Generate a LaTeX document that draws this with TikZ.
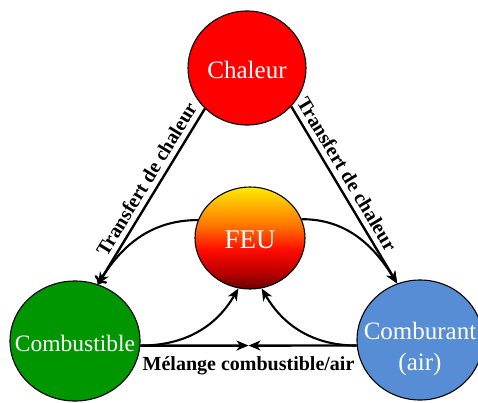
\documentclass[tikz,border=0pt]{standalone}
\usepackage{fontspec}
\setmainfont{Liberation Serif}
\usetikzlibrary{shapes.geometric, arrows.meta, calc}
\definecolor{chalred}{RGB}{255,0,0}
\definecolor{combgreen}{RGB}{0,150,0}
\definecolor{airblue}{RGB}{86,141,212}
\definecolor{feuA}{RGB}{105,0,0}
\definecolor{feuB}{RGB}{185,0,0}
\definecolor{feuC}{RGB}{255,10,0}
\definecolor{feuD}{RGB}{255,115,0}
\definecolor{feuE}{RGB}{255,235,0}
\pgfdeclareverticalshading{feushade}{100bp}{color(0bp)=(feuA); color(25bp)=(feuA); color(33bp)=(feuB); color(44bp)=(feuC); color(56bp)=(feuD); color(75bp)=(feuE); color(100bp)=(feuE)}
\begin{document}
\begin{tikzpicture}[x=1pt, y=1pt,
  blob/.style={ellipse, draw=black, line width=1.1pt, inner sep=0pt},
  intext/.style={text=white, align=center, inner sep=0pt},
  arr/.style={-{Stealth[length=12pt, width=10pt, inset=3.5pt]}, line width=2.4pt, black},
  carr/.style={-{Stealth[length=12pt, width=10pt, inset=3.5pt]}, line width=2.1pt, black},
  lbl/.style={font=\bfseries\fontsize{20}{23}\selectfont, inner sep=2pt, text=black}
]
\useasboundingbox (0,0) rectangle (478,402);

\node[blob, fill=chalred, minimum width=118pt, minimum height=114pt,
  label={[intext, font=\fontsize{25}{30}\selectfont, yshift=-2pt]center:Chaleur}] (chaleur) at (247,334) {};
\node[blob, shading=feushade, minimum width=110pt, minimum height=102pt,
  label={[intext, font=\fontsize{27}{32}\selectfont, yshift=-2pt]center:FEU}] (feu) at (250,164) {};
\node[blob, fill=combgreen, minimum width=130pt, minimum height=120pt,
  label={[intext, font=\fontsize{23.5}{28}\selectfont, yshift=-2pt]center:Combustible}] (combustible) at (75,61) {};
\node[blob, fill=airblue, minimum width=126pt, minimum height=120pt,
  label={[intext, font=\fontsize{25}{31}\selectfont, yshift=-9pt]center:Comburant\\(air)}] (comburant) at (420,62) {};

\coordinate (mid) at ($(combustible.-4)!0.5!(comburant.185)$);

% heat transfer
\draw[arr, <-] (combustible.68) -- node[lbl, sloped, above=3pt, pos=0.56] (tl) {Transfert de chaleur} (chaleur.224);
\draw[arr] (chaleur.319) -- node[lbl, sloped, above=3pt, pos=0.42] (tr) {Transfert de chaleur} (comburant.112);

% fire to sides
\draw[carr] (feu.161) to[out=180, in=58] (combustible.68);
\draw[carr] (feu.20) to[out=0, in=122] (comburant.112);

% sides to fire
\draw[carr] (combustible.-4) to[out=0, in=240] (feu.257);
\draw[carr] (comburant.185) to[out=180, in=300] (feu.283);

% mixture
\draw[arr] (combustible.-4) -- (mid);
\draw[arr] (comburant.185) -- (mid);
\node[lbl, below=9pt] (mix) at (mid) {Mélange combustible/air};
\end{tikzpicture}
\end{document}
